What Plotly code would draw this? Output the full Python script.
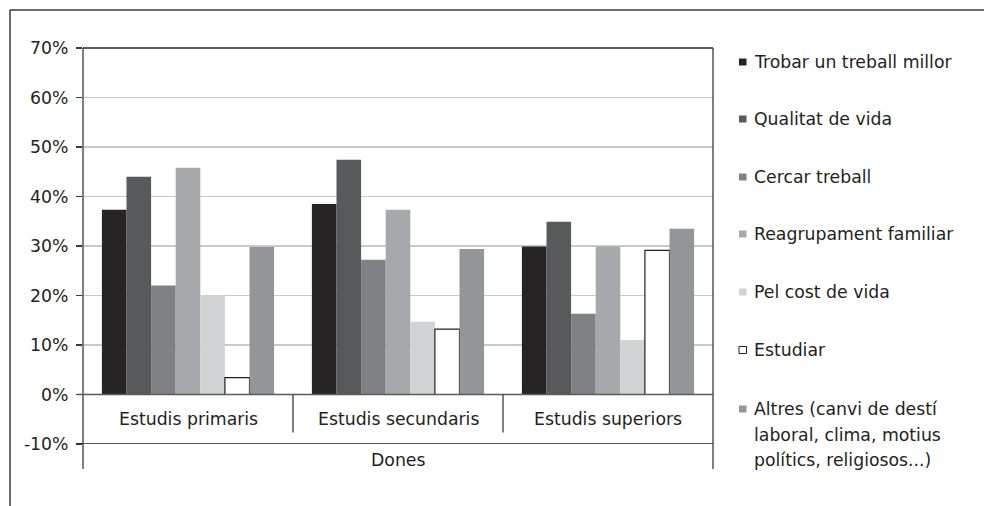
import plotly.graph_objects as go

categories = ["Estudis primaris", "Estudis secundaris", "Estudis superiors"]
group_label = "Dones"
series_names = [
    "Trobar un treball millor",
    "Qualitat de vida",
    "Cercar treball",
    "Reagrupament familiar",
    "Pel cost de vida",
    "Estudiar",
    "Altres (canvi de destí|laboral, clima, motius|polítics, religiosos...)",
]
trobar = [37.3, 38.5, 29.9]
qualitat = [44.0, 47.4, 34.9]
cercar = [22.0, 27.2, 16.3]
reagrup = [45.8, 37.3, 29.9]
cost = [20.1, 14.7, 11.0]
estudiar = [3.4, 13.2, 29.1]
altres = [29.8, 29.4, 33.5]
series_values = [trobar, qualitat, cercar, reagrup, cost, estudiar, altres]
colors = ["#262425", "#58595b", "#808184", "#a7a8ab", "#d1d2d4", "#ffffff", "#939598"]
tick_vals = [-10, 0, 10, 20, 30, 40, 50, 60, 70]
tick_text = ["-10%", "0%", "10%", "20%", "30%", "40%", "50%", "60%", "70%"]

FONT = "DejaVu Sans"
FS = 17.3
TXT = "#231f20"

W, H = 984, 506
L, R, T, B = 83, 713, 48, 444
pw, ph = R - L, B - T


def px(x):
    return (x - L) / pw


def py(y):
    return (B - y) / ph


fig = go.Figure()
for name, vals, col in zip(series_names, series_values, colors):
    is_white = col == "#ffffff"
    fig.add_trace(go.Bar(
        x=categories, y=vals, name=name.replace("|", " "),
        marker=dict(color=col,
                    line=dict(color="#231f20" if is_white else col,
                              width=1.2 if is_white else 0)),
        showlegend=False, hoverinfo="skip",
    ))

shapes = []
annotations = []

# outer frame (top + left)
shapes.append(dict(type="line", xref="paper", yref="paper", x0=px(10), x1=px(984),
                   y0=py(10), y1=py(10), line=dict(color="#3a3a3a", width=1.5)))
shapes.append(dict(type="line", xref="paper", yref="paper", x0=px(10), x1=px(10),
                   y0=py(10), y1=py(506), line=dict(color="#3a3a3a", width=1.5)))
# plot borders
shapes.append(dict(type="line", xref="paper", yref="paper", x0=0, x1=1, y0=1, y1=1,
                   line=dict(color="#231f20", width=1.3)))
shapes.append(dict(type="line", xref="paper", yref="paper", x0=0, x1=0, y0=1, y1=py(469),
                   line=dict(color="#3a3a3a", width=1.3)))
shapes.append(dict(type="line", xref="paper", yref="paper", x0=1, x1=1, y0=1, y1=py(469),
                   line=dict(color="#3a3a3a", width=1.3)))
# -10% line
shapes.append(dict(type="line", xref="paper", yref="y", x0=px(77), x1=1, y0=-10, y1=-10,
                   line=dict(color="#231f20", width=1.3), layer="above"))
# 0% line
shapes.append(dict(type="line", xref="paper", yref="y", x0=px(77), x1=1, y0=0, y1=0,
                   line=dict(color="#5a5a5a", width=1.3), layer="above"))
# category separators
for sx in [0.5, 1.5]:
    shapes.append(dict(type="line", xref="x", yref="y", x0=sx, x1=sx, y0=0, y1=-7.7,
                       line=dict(color="#3a3a3a", width=1.3)))

for c in categories:
    annotations.append(dict(x=c, y=-5, xref="x", yref="y", text=c, showarrow=False,
                            yanchor="middle",
                            font=dict(family=FONT, size=FS, color=TXT)))
annotations.append(dict(x=0.5, y=py(460), xref="paper", yref="paper", text=group_label,
                        showarrow=False, yanchor="middle",
                        font=dict(family=FONT, size=FS, color=TXT)))

# legend
leg_y = [62, 119, 177, 234, 292, 350, 409]
for name, col, yy in zip(series_names, colors, leg_y):
    is_white = col == "#ffffff"
    shapes.append(dict(type="rect", xref="paper", yref="paper",
                       x0=px(739), x1=px(746.5), y0=py(yy - 3.5), y1=py(yy + 3.5),
                       fillcolor=col,
                       line=dict(color="#231f20" if is_white else col, width=1 if is_white else 0)))
    for i, part in enumerate(name.split("|")):
        annotations.append(dict(x=px(752), y=py(yy + i * 25.7), xref="paper", yref="paper",
                                xanchor="left", yanchor="middle", align="left", text=part,
                                showarrow=False,
                                font=dict(family=FONT, size=FS, color=TXT)))

fig.update_layout(
    width=W, height=H,
    margin=dict(l=L, r=W - R, t=T, b=H - B),
    paper_bgcolor="white", plot_bgcolor="white",
    barmode="group", bargap=0.18, bargroupgap=0,
    font=dict(family=FONT, size=FS, color=TXT),
    shapes=shapes, annotations=annotations,
    hovermode=False,
    xaxis=dict(range=[-0.5, 2.5], showticklabels=False, showgrid=False, showline=False,
               zeroline=False, ticks=""),
    yaxis=dict(range=[-10, 70], tickvals=tick_vals, ticktext=tick_text, showgrid=True,
               gridcolor="#c9c9cb", gridwidth=1.2, zeroline=False, showline=False,
               ticks="outside", ticklen=6, tickcolor="#3a3a3a", tickwidth=1.3,
               ticklabelstandoff=4,
               tickfont=dict(family=FONT, size=FS, color=TXT)),
)

fig.write_html("out.html", config={"displayModeBar": False, "staticPlot": True},
               post_script="document.body.style.margin='0px';document.body.style.overflow='hidden';")
